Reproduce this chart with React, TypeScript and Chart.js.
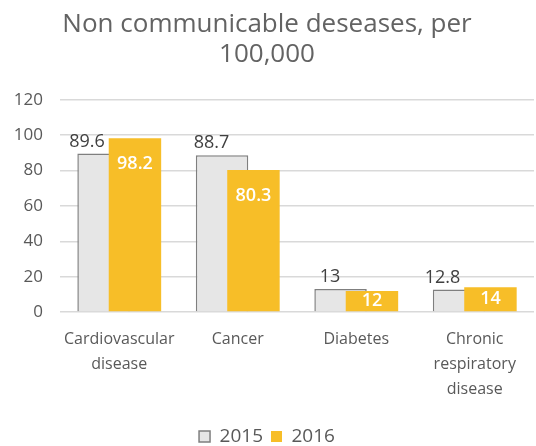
import React, { useEffect, useRef } from "react";
import { Chart, registerables } from "chart.js";

Chart.register(...registerables);

const categories: string[][] = [
  ["Cardiovascular", "disease"],
  ["Cancer"],
  ["Diabetes"],
  ["Chronic", "respiratory", "disease"],
];
const values2015: number[] = [89.6, 88.7, 13, 12.8];
const values2016: number[] = [98.2, 80.3, 12, 14];
const seriesNames: string[] = ["2015", "2016"];
const titleLines: string[] = ["Non communicable deseases, per", "100,000"];

const GRAY = "#e6e6e6";
const GRAY_BORDER = "#7f7f7f";
const GOLD = "#f7be28";

// Draw 2015 first so the 2016 bars overlap it (Chart.js draws datasets last-to-first)
const orderPlugin = {
  id: "drawOrder",
  beforeDatasetsDraw(chart: any) {
    const meta = chart.getDatasetMeta(0);
    if (meta && meta.controller) meta.controller.draw();
  },
  beforeDatasetDraw(chart: any, args: any) {
    if (args.index === 0) return false;
    return true;
  },
};

const labelPlugin = {
  id: "valueLabels",
  afterDatasetsDraw(chart: any) {
    const ctx = chart.ctx;
    const m0 = chart.getDatasetMeta(0);
    const m1 = chart.getDatasetMeta(1);
    ctx.save();
    ctx.textAlign = "center";
    ctx.textBaseline = "middle";
    m0.data.forEach((el: any, i: number) => {
      const p = el.getProps(["x", "y", "base", "width"], true);
      const g = m1.data[i].getProps(["x", "y", "width"], true);
      const left = p.x - p.width / 2;
      const goldLeft = g.x - g.width / 2;
      let cx = (left + goldLeft) / 2;
      ctx.font = "18px 'Open Sans'";
      const text = String(values2015[i]);
      const w = ctx.measureText(text).width;
      const ly = p.y - 12;
      if (g.y < ly + 10) cx = Math.min(cx, goldLeft - 4 - w / 2);
      ctx.fillStyle = "#404040";
      ctx.fillText(text, cx, ly);
    });
    m1.data.forEach((el: any, i: number) => {
      const p = el.getProps(["x", "y", "base", "width"], true);
      const y = Math.min(p.y + 26, (p.y + p.base) / 2);
      ctx.fillStyle = "#ffffff";
      ctx.font = "600 18px 'Open Sans'";
      ctx.fillText(String(values2016[i]), p.x, y);
    });
    ctx.restore();
  },
};

export default function App() {
  const ref = useRef<HTMLCanvasElement | null>(null);
  useEffect(() => {
    if (!ref.current) return;
    const chart = new Chart(ref.current, {
      type: "bar",
      data: {
        labels: categories,
        datasets: [
          {
            label: seriesNames[0],
            data: values2015,
            backgroundColor: GRAY,
            borderColor: GRAY_BORDER,
            borderWidth: 1.5,
            borderSkipped: "bottom",
          },
          {
            label: seriesNames[1],
            data: values2016,
            backgroundColor: GOLD,
            borderWidth: 0,
          },
        ],
      },
      options: {
        animation: false,
        responsive: false,
        maintainAspectRatio: false,
        datasets: {
          bar: { categoryPercentage: 0.53, barPercentage: 1.67 },
        },
        layout: { padding: { left: 0, right: 2, top: 0, bottom: -10 } },
        plugins: {
          title: {
            display: true,
            text: titleLines,
            color: "#636363",
            font: { family: "'Open Sans'", size: 26, weight: "normal", lineHeight: 1.15 },
            padding: { top: 10, bottom: 30 },
          },
          legend: {
            position: "bottom",
            labels: {
              color: "#595959",
              font: { family: "'Open Sans'", size: 19 },
              boxWidth: 11,
              boxHeight: 11,
              padding: 8,
            },
          },
          tooltip: { enabled: false },
        },
        scales: {
          x: {
            grid: { display: false, drawTicks: false },
            border: { display: false },
            ticks: {
              color: "#595959",
              font: { family: "'Open Sans'", size: 16, lineHeight: 1.56 },
              padding: 15,
              maxRotation: 0,
              autoSkip: false,
            },
            afterFit(scale: any) {
              scale.height += 2;
            },
          },
          y: {
            min: 0,
            max: 120,
            grid: { color: "#d9d9d9", lineWidth: 1.5, drawTicks: false },
            border: { display: false },
            ticks: {
              stepSize: 20,
              color: "#595959",
              font: { family: "'Open Sans'", size: 17 },
              padding: 17,
            },
            afterFit(scale: any) {
              scale.width = 60;
            },
          },
        },
      },
      plugins: [orderPlugin, labelPlugin],
    });
    return () => chart.destroy();
  }, []);
  return (
    <div style={{ position: "fixed", left: 0, top: 0, width: 536, height: 446, background: "#fff" }}>
      <canvas ref={ref} width={536} height={446} style={{ width: 536, height: 446 }} />
    </div>
  );
}
